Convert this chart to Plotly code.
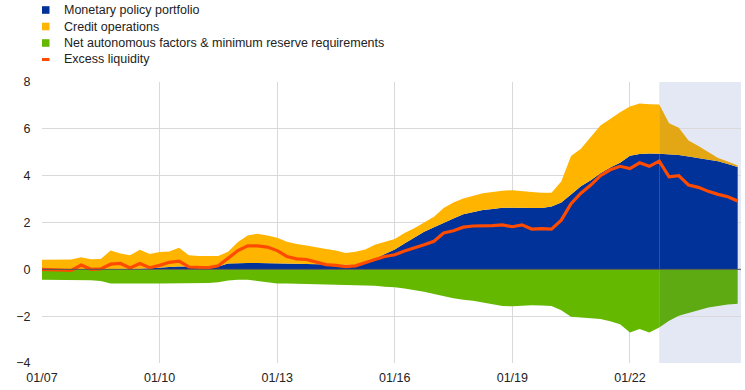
import numpy as np
import pandas as pd
import plotly.graph_objects as go

dates = pd.date_range("2007-01-01", "2024-10-01", freq="QS")

monetary_policy_portfolio = [
    0.00, 0.00, 0.00, 0.00,
    0.00, 0.00, 0.00, 0.00,
    0.00, 0.00, 0.03, 0.05,
    0.06, 0.10, 0.12, 0.12,
    0.12, 0.12, 0.12, 0.25,
    0.27, 0.27, 0.27, 0.27,
    0.26, 0.25, 0.24, 0.23,
    0.22, 0.20, 0.18, 0.17,
    0.19, 0.30, 0.45, 0.65,
    0.85, 1.10, 1.35, 1.60,
    1.80, 2.00, 2.17, 2.35,
    2.45, 2.53, 2.58, 2.63,
    2.63, 2.63, 2.62, 2.62,
    2.68, 2.85, 3.20, 3.55,
    3.80, 4.10, 4.35, 4.55,
    4.85, 4.93, 4.95, 4.94,
    4.92, 4.88, 4.82, 4.75,
    4.69, 4.62, 4.50, 4.37,
]

credit_operations = [
    0.41, 0.42, 0.42, 0.42,
    0.52, 0.43, 0.44, 0.80,
    0.68, 0.60, 0.81, 0.61,
    0.68, 0.66, 0.80, 0.48,
    0.45, 0.44, 0.45, 0.50,
    0.90, 1.18, 1.25, 1.18,
    1.09, 0.93, 0.84, 0.79,
    0.74, 0.67, 0.62, 0.53,
    0.56, 0.55, 0.60, 0.53,
    0.45, 0.45, 0.40, 0.40,
    0.45, 0.62, 0.68, 0.68,
    0.70, 0.72, 0.72, 0.73,
    0.75, 0.70, 0.68, 0.65,
    0.59, 0.90, 1.64, 1.60,
    1.87, 2.04, 2.07, 2.16,
    2.10, 2.15, 2.10, 2.10,
    1.32, 1.17, 0.68, 0.52,
    0.31, 0.13, 0.10, 0.06,
]

net_autonomous_factors = [
    -0.44, -0.44, -0.45, -0.45,
    -0.47, -0.47, -0.50, -0.60,
    -0.60, -0.61, -0.60, -0.61,
    -0.60, -0.60, -0.58, -0.60,
    -0.60, -0.58, -0.55, -0.48,
    -0.45, -0.45, -0.50, -0.55,
    -0.60, -0.61, -0.62, -0.61,
    -0.62, -0.62, -0.66, -0.64,
    -0.66, -0.68, -0.70, -0.74,
    -0.76, -0.82, -0.88, -0.96,
    -1.05, -1.15, -1.24, -1.30,
    -1.34, -1.42, -1.48, -1.57,
    -1.58, -1.54, -1.53, -1.54,
    -1.57, -1.75, -2.02, -2.06,
    -2.10, -2.12, -2.22, -2.35,
    -2.70, -2.55, -2.70, -2.48,
    -2.20, -1.98, -1.85, -1.75,
    -1.63, -1.56, -1.50, -1.47,
]

excess_liquidity = [
    0.00, -0.02, -0.03, -0.05,
    0.18, 0.00, 0.02, 0.22,
    0.25, 0.06, 0.25, 0.07,
    0.17, 0.30, 0.35, 0.10,
    0.08, 0.07, 0.15, 0.46,
    0.80, 1.00, 1.00, 0.95,
    0.80, 0.55, 0.45, 0.42,
    0.32, 0.20, 0.17, 0.12,
    0.15, 0.27, 0.42, 0.55,
    0.62, 0.78, 0.90, 1.05,
    1.20, 1.55, 1.65, 1.80,
    1.85, 1.85, 1.87, 1.90,
    1.82, 1.90, 1.72, 1.74,
    1.72, 2.10, 2.80, 3.25,
    3.60, 4.00, 4.25, 4.40,
    4.30, 4.55, 4.40, 4.62,
    3.95, 4.00, 3.60, 3.50,
    3.33, 3.20, 3.10, 2.92,
]

x_tick_vals = ["2007-01-01", "2010-01-01", "2013-01-01", "2016-01-01", "2019-01-01", "2022-01-01"]
x_tick_text = ["01/07", "01/10", "01/13", "01/16", "01/19", "01/22"]
y_tick_vals = [-4, -2, 0, 2, 4, 6, 8]

legend_labels = ["Monetary policy portfolio", "Credit operations",
                 "Net autonomous factors & minimum reserve requirements", "Excess liquidity"]

shade_start = "2022-10-01"
x_range = ["2007-01-01", "2024-11-01"]

# ---- styles ----
BLUE = "#003299"
YELLOW = "#FFB400"
YELLOW_DARK = "#E3A716"
GREEN = "#65B800"
GREEN_DARK = "#5DAA12"
RED = "#FF4B00"
SHADE = "#E4E8F4"
GRID = "#D9D9D9"
FONT = "Liberation Sans, Arial, sans-serif"
TXT = "#222222"

mpp = np.array(monetary_policy_portfolio)
top = mpp + np.array(credit_operations)
naf = np.array(net_autonomous_factors)

k = int(np.where(dates == pd.Timestamp(shade_start))[0][0])
pre = slice(0, k + 1)
post = slice(k, len(dates))

fig = go.Figure()

def area(x, y, color, fill):
    fig.add_trace(go.Scatter(x=x, y=y, mode="lines", line=dict(width=0, color=color),
                             fill=fill, fillcolor=color, hoverinfo="skip", showlegend=False))

area(dates[pre], mpp[pre], BLUE, "tozeroy")
area(dates[pre], top[pre], YELLOW, "tonexty")
area(dates[post], mpp[post], BLUE, "tozeroy")
area(dates[post], top[post], YELLOW_DARK, "tonexty")
area(dates[pre], naf[pre], GREEN, "tozeroy")
area(dates[post], naf[post], GREEN_DARK, "tozeroy")

fig.add_trace(go.Scatter(x=dates, y=excess_liquidity, mode="lines",
                         line=dict(color=RED, width=3.2), hoverinfo="skip", showlegend=False))

# plot area geometry in pixels (for legend placement)
L, R, T, B = 42, 741, 82, 363
W, H = R - L, B - T

def px_x(p):
    return (p - L) / W

def px_y(p):
    return (B - p) / H

shapes = [
    dict(type="rect", xref="x", yref="paper", x0=shade_start, x1=x_range[1], y0=0, y1=1,
         fillcolor=SHADE, line=dict(width=0), layer="below"),
    dict(type="line", xref="paper", yref="y", x0=0, x1=1, y0=0, y1=0,
         line=dict(color="#555555", width=1), layer="above"),
]

legend_y = [10, 26.5, 43, 59.5]
legend_colors = [BLUE, YELLOW, GREEN]
annotations = []
for i, lab in enumerate(legend_labels):
    cy = legend_y[i]
    if i < 3:
        shapes.append(dict(type="rect", xref="paper", yref="paper",
                           x0=px_x(42), x1=px_x(49.5), y0=px_y(cy + 3.8), y1=px_y(cy - 3.8),
                           fillcolor=legend_colors[i], line=dict(width=0)))
    else:
        shapes.append(dict(type="line", xref="paper", yref="paper",
                           x0=px_x(42), x1=px_x(49.5), y0=px_y(cy), y1=px_y(cy),
                           line=dict(color=RED, width=3)))
    annotations.append(dict(xref="paper", yref="paper", x=px_x(62), y=px_y(cy),
                            xanchor="left", yanchor="middle", text=lab, showarrow=False,
                            font=dict(family=FONT, size=12.5, color=TXT)))

fig.update_layout(
    width=745, height=390,
    margin=dict(l=L, r=745 - R, t=T, b=390 - B, pad=0),
    paper_bgcolor="white", plot_bgcolor="rgba(0,0,0,0)",
    showlegend=False,
    font=dict(family=FONT, size=12, color=TXT),
    shapes=shapes, annotations=annotations,
    xaxis=dict(type="date", range=x_range, tickvals=x_tick_vals, ticktext=x_tick_text,
               showgrid=True, gridcolor=GRID, gridwidth=1, zeroline=False, showline=False,
               ticks="outside", ticklen=3, tickcolor="rgba(0,0,0,0)",
               tickfont=dict(family=FONT, size=12.5, color=TXT)),
    yaxis=dict(range=[-4, 8], tickvals=y_tick_vals, showgrid=True, gridcolor=GRID, gridwidth=1,
               zeroline=False, showline=False, ticks="outside", ticklen=8,
               tickcolor="rgba(0,0,0,0)",
               tickfont=dict(family=FONT, size=12.5, color=TXT)),
)

fig.write_html("out.html", config={"displayModeBar": False},
               post_script="document.body.style.margin='0';document.body.style.overflow='hidden';")
